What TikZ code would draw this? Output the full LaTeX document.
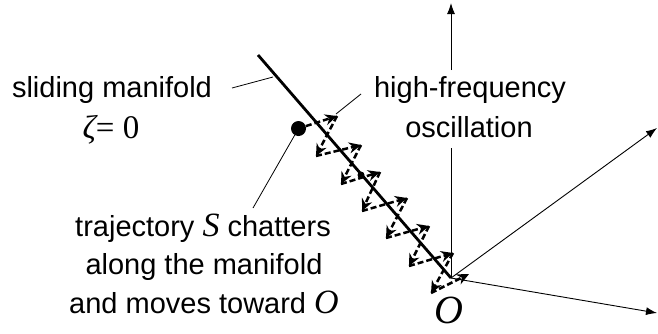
\documentclass[tikz,border=0pt]{standalone}
\usepackage{fontspec}
\setmainfont{Liberation Sans}
\newfontfamily\tms{Liberation Serif}
\usetikzlibrary{arrows.meta}
\newcommand\myit[1]{{\tms\itshape #1}}
\begin{document}
\begin{tikzpicture}[x=1pt,y=-1pt,
  lbl/.style={font=\fontsize{29}{34}\selectfont, inner sep=0pt, anchor=base},
  axis/.style={line width=0.9pt,-{Latex[length=11pt,width=8pt]}},
  leader/.style={line width=0.8pt},
  zig/.style={line width=2.5pt, dash pattern=on 6pt off 3pt,
              -{Stealth[length=12pt,width=11pt,inset=4pt]}},
  manifold/.style={line width=2.8pt},
  dotnode/.style={circle, fill, inner sep=0pt}
  ]
\useasboundingbox (0,0) rectangle (658,333);
% axes
\coordinate (O) at (451,278);
\coordinate (ytop) at (451,3);
\coordinate (ur) at (657,128);
\coordinate (lr) at (657,313);
% labels
\node[lbl] (hf1) at (470,97) {high-frequency};
\node[lbl] (hf2) at (469,137) {oscillation};
\coordinate (gapTop) at (451,70);
\coordinate (gapBot) at (451,148);
\draw[line width=0.9pt] (O) -- (gapBot);
\draw[axis] (gapTop) -- (ytop);
\draw[axis] (O) -- (ur);
\draw[axis] (O) -- (lr);
% manifold
\coordinate (mtop) at (258,55);
\draw[manifold] (mtop) -- (O);
\node[dotnode, minimum size=7pt] (mdot) at (361,175) {};
% sliding manifold label
\node[lbl] (sm1) at (112,97) {sliding manifold};
\node[lbl] (sm2) at (111,138) {\myit{\fontsize{33}{38}\selectfont ζ}{\tms\fontsize{33}{38}\selectfont= 0}};
\coordinate (smA) at (232,88);
\coordinate (smB) at (273,77);
\draw[leader] (smA) -- (smB);
% trajectory label
\node[lbl] (tr1) at (203,236) {trajectory \myit{\fontsize{34}{38}\selectfont S} chatters};
\node[lbl] (tr2) at (204,274) {along the manifold};
\node[lbl] (tr3) at (204,313) {and moves toward \myit{\fontsize{34}{38}\selectfont O}};
% origin label
\node[lbl, font=\tms\itshape\fontsize{40}{44}\selectfont] (Olab) at (449,323) {O};
% big dot (trajectory S)
\node[dotnode, minimum size=15pt] (S) at (298.5,128.5) {};
\coordinate (trA) at (253,208);
\draw[leader] (trA) -- (S);
% zigzag
\coordinate (P1) at (337,116);
\coordinate (P2) at (316,156);
\coordinate (P3) at (361,145);
\coordinate (P4) at (341,184);
\coordinate (P5) at (380,172);
\coordinate (P6) at (362,211);
\coordinate (P7) at (407,198);
\coordinate (P8) at (386,238);
\coordinate (P9) at (429,226);
\coordinate (P10) at (409,266);
\coordinate (P11) at (453,253);
\coordinate (P12) at (431,293);
\coordinate (P13) at (469,274);
\draw[zig] (S) -- (P1);
\draw[zig] (P1) -- (P2);
\draw[zig] (P2) -- (P3);
\draw[zig] (P3) -- (P4);
\draw[zig] (P4) -- (P5);
\draw[zig] (P5) -- (P6);
\draw[zig] (P6) -- (P7);
\draw[zig] (P7) -- (P8);
\draw[zig] (P8) -- (P9);
\draw[zig] (P9) -- (P10);
\draw[zig] (P10) -- (P11);
\draw[zig] (P11) -- (P12);
\draw[zig] (P12) -- (P13);
% high-frequency leader
\coordinate (hfA) at (361,94);
\coordinate (hfB) at (336,114);
\draw[leader] (hfA) -- (hfB);
\end{tikzpicture}
\end{document}
